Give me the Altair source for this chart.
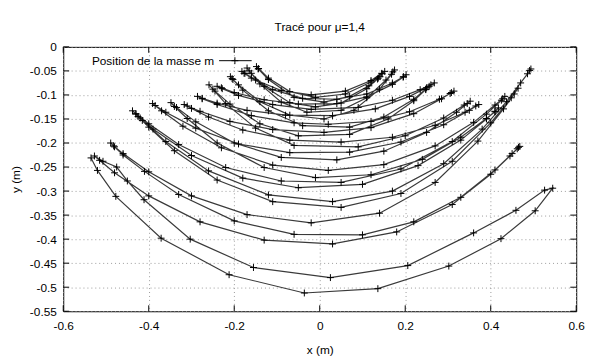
import altair as alt
import pandas as pd

title_text = "Tracé pour μ=1,4"
series_name = "Position de la masse m"
x_title = "x (m)"
y_title = "y (m)"
x_ticks = [-0.6, -0.4, -0.2, 0, 0.2, 0.4, 0.6]
y_ticks = [0, -0.05, -0.1, -0.15, -0.2, -0.25, -0.3, -0.35, -0.4, -0.45, -0.5, -0.55]

# successive positions of the mass m (time order)
pos_x = [
    0.494, 0.491, 0.486, 0.470, 0.437, 0.380, 0.290, 0.170, 0.030, -0.120, -0.260, -0.360, -0.415, -0.438,
    -0.430, -0.400, -0.330, -0.220, -0.090, 0.050, 0.190, 0.310, 0.390, 0.425, 0.433,
    0.428, 0.410, 0.360, 0.270, 0.150, 0.020, -0.110, -0.230, -0.320, -0.370, -0.391,
    -0.385, -0.360, -0.290, -0.190, -0.070, 0.070, 0.190, 0.290, 0.350, 0.372,
    0.365, 0.340, 0.270, 0.170, 0.050, -0.070, -0.180, -0.260, -0.300, -0.317,
    -0.310, -0.280, -0.210, -0.110, 0.010, 0.120, 0.220, 0.285, 0.308, 0.314,
    0.305, 0.280, 0.210, 0.120, 0.020, -0.060, -0.160, -0.240, -0.275, -0.286,
    -0.275, -0.240, -0.170, -0.080, 0.030, 0.130, 0.210, 0.250, 0.268,
    0.260, 0.235, 0.170, 0.090, -0.020, -0.110, -0.190, -0.228, -0.240,
    -0.230, -0.200, -0.130, -0.050, 0.040, 0.110, 0.170, 0.195, 0.202,
    0.196, 0.170, 0.110, 0.040, -0.040, -0.110, -0.160, -0.177, -0.182,
    -0.175, -0.150, -0.090, -0.020, 0.060, 0.120, 0.145, 0.152,
    0.146, 0.120, 0.060, -0.010, -0.070, -0.120, -0.143, -0.148,
    -0.144, -0.120, -0.060, 0.010, 0.070, 0.115, 0.137, 0.141,
    0.135, 0.110, 0.050, -0.010, -0.070, -0.130, -0.160, -0.170,
    -0.165, -0.140, -0.090, -0.030, 0.050, 0.110, 0.155, 0.171, 0.175,
    0.168, 0.140, 0.080, 0.010, -0.070, -0.140, -0.190, -0.205, -0.209,
    -0.203, -0.180, -0.120, -0.040, 0.070, 0.150, 0.220, 0.248, 0.256,
    0.248, 0.220, 0.160, 0.070, -0.050, -0.140, -0.210, -0.245, -0.259,
    -0.250, -0.220, -0.150, -0.060, 0.090, 0.200, 0.290, 0.338, 0.352,
    0.345, 0.320, 0.250, 0.150, 0.040, -0.090, -0.200, -0.290, -0.335, -0.348,
    -0.340, -0.310, -0.240, -0.130, -0.010, 0.120, 0.240, 0.330, 0.390, 0.410, 0.418,
    0.410, 0.390, 0.330, 0.230, 0.100, -0.050, -0.180, -0.300, -0.390, -0.420, -0.430,
    -0.425, -0.400, -0.340, -0.240, -0.110, 0.050, 0.190, 0.310, 0.400, 0.448, 0.464,
    0.455, 0.430, 0.370, 0.270, 0.140, -0.020, -0.170, -0.300, -0.400, -0.460, -0.482, -0.489,
    -0.480, -0.460, -0.410, -0.330, -0.200, -0.060, 0.100, 0.220, 0.330, 0.410, 0.450, 0.465,
    0.468, 0.462, 0.445, 0.400, 0.310, 0.180, 0.030, -0.130, -0.280, -0.400, -0.480, -0.515, -0.527,
    -0.507, -0.475, -0.450, -0.411, -0.303, -0.155, 0.025, 0.206, 0.360, 0.459, 0.526, 0.545,
    0.504, 0.424, 0.302, 0.136, -0.036, -0.212, -0.371, -0.477, -0.520, -0.535,
]
pos_y = [
    -0.046, -0.049, -0.056, -0.075, -0.114, -0.171, -0.243, -0.300, -0.322, -0.308, -0.258, -0.197, -0.153, -0.133,
    -0.139, -0.160, -0.203, -0.251, -0.279, -0.282, -0.254, -0.197, -0.140, -0.111, -0.103,
    -0.108, -0.121, -0.157, -0.206, -0.245, -0.257, -0.246, -0.210, -0.165, -0.133, -0.118,
    -0.122, -0.136, -0.169, -0.202, -0.220, -0.219, -0.198, -0.162, -0.132, -0.120,
    -0.123, -0.136, -0.163, -0.188, -0.198, -0.194, -0.173, -0.146, -0.128, -0.120,
    -0.123, -0.134, -0.155, -0.172, -0.178, -0.168, -0.139, -0.108, -0.095, -0.092,
    -0.097, -0.109, -0.135, -0.155, -0.161, -0.158, -0.143, -0.120, -0.108, -0.103,
    -0.107, -0.117, -0.132, -0.142, -0.143, -0.129, -0.103, -0.085, -0.075,
    -0.079, -0.089, -0.111, -0.126, -0.130, -0.120, -0.101, -0.087, -0.082,
    -0.085, -0.095, -0.110, -0.119, -0.118, -0.104, -0.078, -0.063, -0.058,
    -0.062, -0.075, -0.098, -0.109, -0.107, -0.089, -0.065, -0.055, -0.051,
    -0.055, -0.069, -0.091, -0.100, -0.092, -0.070, -0.055, -0.051,
    -0.056, -0.073, -0.098, -0.105, -0.093, -0.065, -0.045, -0.041,
    -0.046, -0.068, -0.105, -0.115, -0.103, -0.081, -0.065, -0.062,
    -0.067, -0.087, -0.117, -0.125, -0.116, -0.082, -0.055, -0.044,
    -0.050, -0.077, -0.115, -0.136, -0.132, -0.106, -0.069, -0.052, -0.048,
    -0.057, -0.088, -0.132, -0.150, -0.142, -0.114, -0.079, -0.066, -0.062,
    -0.068, -0.090, -0.133, -0.164, -0.167, -0.146, -0.109, -0.088, -0.082,
    -0.089, -0.112, -0.150, -0.182, -0.185, -0.160, -0.119, -0.092, -0.079,
    -0.088, -0.118, -0.169, -0.205, -0.208, -0.185, -0.148, -0.121, -0.113,
    -0.118, -0.136, -0.178, -0.217, -0.235, -0.230, -0.200, -0.156, -0.126, -0.116,
    -0.124, -0.149, -0.200, -0.251, -0.272, -0.266, -0.234, -0.188, -0.149, -0.135, -0.127,
    -0.134, -0.150, -0.194, -0.247, -0.286, -0.293, -0.273, -0.226, -0.171, -0.148, -0.140,
    -0.145, -0.167, -0.216, -0.277, -0.322, -0.334, -0.305, -0.238, -0.158, -0.106, -0.086,
    -0.098, -0.129, -0.196, -0.282, -0.346, -0.366, -0.349, -0.310, -0.260, -0.222, -0.206, -0.200,
    -0.208, -0.225, -0.259, -0.307, -0.362, -0.390, -0.391, -0.364, -0.313, -0.256, -0.222, -0.209,
    -0.207, -0.212, -0.227, -0.265, -0.328, -0.385, -0.410, -0.402, -0.364, -0.310, -0.262, -0.236, -0.227,
    -0.238, -0.250, -0.279, -0.318, -0.400, -0.459, -0.480, -0.455, -0.387, -0.340, -0.298, -0.294,
    -0.341, -0.399, -0.456, -0.503, -0.512, -0.474, -0.398, -0.311, -0.257, -0.231,
]

df = pd.DataFrame({"i": list(range(len(pos_x))), "x": pos_x, "y": pos_y})

W, H = 520, 268
FONT = "Liberation Sans"
PLUS = "M-1,0L1,0M0,-1L0,1"
xs = alt.Scale(domain=[-0.6, 0.6], nice=False, zero=False)
ys = alt.Scale(domain=[-0.55, 0], nice=False, zero=False)

x_axis = alt.Axis(values=x_ticks, title=x_title, labelExpr="'' + datum.value",
                  grid=True, gridDash=[1, 3], gridColor="#9a9a9a", ticks=False, tickSize=0,
                  domain=False, labelPadding=9, titlePadding=14, labelFlush=False)
y_axis = alt.Axis(values=y_ticks, title=y_title, labelExpr="'' + datum.value",
                  grid=True, gridDash=[1, 3], gridColor="#9a9a9a", ticks=False, tickSize=0,
                  domain=False, labelPadding=7, titlePadding=7, labelFlush=False)
X = alt.X("x:Q", scale=xs, axis=x_axis)
Y = alt.Y("y:Q", scale=ys, axis=y_axis)

base = alt.Chart(df)
line = base.mark_line(color="#3a3a3a", strokeWidth=1.2).encode(x=X, y=Y, order="i:Q")
pts = base.mark_point(shape=PLUS, size=49, filled=False, color="black",
                      strokeWidth=1, opacity=1).encode(x=X, y=Y)

xt = pd.DataFrame({"x": x_ticks})
yt = pd.DataFrame({"y": y_ticks})
tick_b = alt.Chart(xt).mark_rule(color="black").encode(x=X, y=alt.value(H), y2=alt.value(H - 6))
tick_t = alt.Chart(xt).mark_rule(color="black").encode(x=X, y=alt.value(0), y2=alt.value(6))
tick_l = alt.Chart(yt).mark_rule(color="black").encode(y=Y, x=alt.value(0), x2=alt.value(6))
tick_r = alt.Chart(yt).mark_rule(color="black").encode(y=Y, x=alt.value(W), x2=alt.value(W - 6))

leg_df = pd.DataFrame({"t": [series_name]})
leg_text = alt.Chart(leg_df).mark_text(align="right", baseline="alphabetic", font=FONT,
                                       fontSize=12, color="black").encode(
    text="t:N", x=alt.value(153), y=alt.value(18))
leg_line = alt.Chart(leg_df).mark_rule(color="black", strokeWidth=1).encode(
    x=alt.value(158), x2=alt.value(191), y=alt.value(14))
leg_pt = alt.Chart(leg_df).mark_point(shape=PLUS, size=49, filled=False, color="black",
                                      strokeWidth=1, opacity=1).encode(
    x=alt.value(174), y=alt.value(14))

chart = alt.layer(line, pts, tick_b, tick_t, tick_l, tick_r, leg_line, leg_pt, leg_text).properties(
    width=W, height=H,
    title=alt.TitleParams(text=title_text, font=FONT, fontSize=12, fontWeight="normal",
                          anchor="middle", color="black", offset=7),
    autosize=alt.AutoSizeParams(type="none"),
    padding={"left": 56, "top": 37, "right": 16, "bottom": 46},
).configure_view(stroke="black", strokeWidth=1).configure_axis(
    labelFont=FONT, labelFontSize=12, labelColor="black",
    titleFont=FONT, titleFontSize=12, titleFontWeight="normal", titleColor="black",
)

chart.save("out.html", embed_options={"renderer": "svg", "actions": False})
